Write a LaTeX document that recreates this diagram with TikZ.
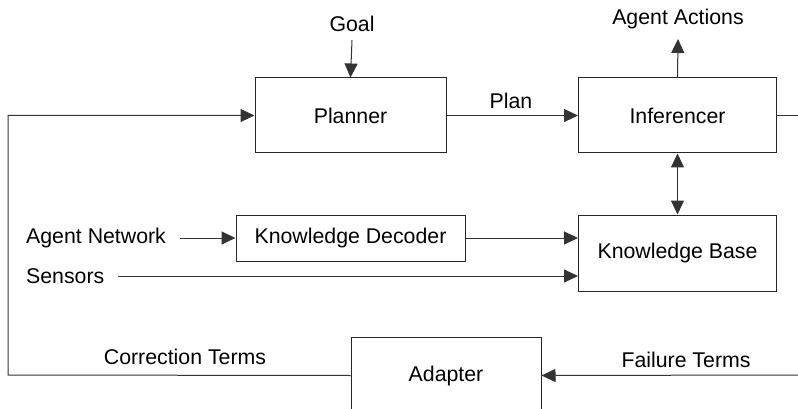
\documentclass[tikz,border=0pt]{standalone}
\usepackage{fontspec}
\setmainfont{Liberation Sans}
\usetikzlibrary{arrows.meta}
\begin{document}
\begin{tikzpicture}[x=1pt,y=-1pt,
  font=\fontsize{21.3}{25}\selectfont,
  box/.style={draw=black!85,line width=1pt,fill=white,inner sep=0pt},
  lbl/.style={inner sep=0pt},
  conn/.style={draw=black!80,line width=1pt,-{Triangle[length=14pt,width=13pt]}},
  plain/.style={draw=black!80,line width=1pt}]
\useasboundingbox (0,0) rectangle (798,409);
\clip (0,0) rectangle (798,409);
% boxes
\node[box,minimum width=191pt,minimum height=75pt] (planner) at (350.5,115.5) {Planner};
\node[box,minimum width=198pt,minimum height=75pt] (infer) at (677.5,115.5) {Inferencer};
\node[box,minimum width=198pt,minimum height=76pt] (kb) at (677.5,253) {Knowledge Base};
\node[box,minimum width=229pt,minimum height=46pt] (dec) at (350.5,238) {Knowledge Decoder};
\node[box,minimum width=190pt,minimum height=77pt] (adapt) at (446,375.5) {Adapter};
% labels
\node[lbl] (goal) at (352,24) {Goal};
\node[lbl] (actions) at (678,19) {Agent Actions};
\node[lbl] (plan) at (511,101) {Plan};
\node[lbl,anchor=west] (net) at (26,238) {Agent Network};
\node[lbl,anchor=west] (sens) at (26,276) {Sensors};
\node[lbl] (corr) at (185,357) {Correction Terms};
\node[lbl] (fail) at (686,360) {Failure Terms};
% coordinates
\coordinate (goalS) at (352,40);
\coordinate (actT) at (678,39);
\coordinate (netE) at (180,238);
\coordinate (sensE) at (118,276);
\coordinate (loopA) at (8,375);
\coordinate (loopB) at (8,115.5);
\coordinate (inR) at (798,115.5);
\coordinate (failR) at (798,375);
% connectors
\draw[conn] (goalS) -- (planner.north);
\draw[conn] (infer.north) -- (actT);
\draw[conn] (planner.east) -- (infer.west);
\draw[conn,{Triangle[length=14pt,width=13pt]}-{Triangle[length=14pt,width=13pt]}] (infer.south) -- (kb.north);
\draw[conn] (netE) -- (dec.west);
\draw[conn] (dec.east) -- (dec.east -| kb.west);
\draw[conn] (sensE) -- (sensE -| kb.west);
\draw[plain] (infer.east) -- (inR);
\draw[conn] (failR) -- (adapt.east);
\draw[conn] (adapt.west) -- (loopA) -- (loopB) -- (planner.west);
\end{tikzpicture}
\end{document}
